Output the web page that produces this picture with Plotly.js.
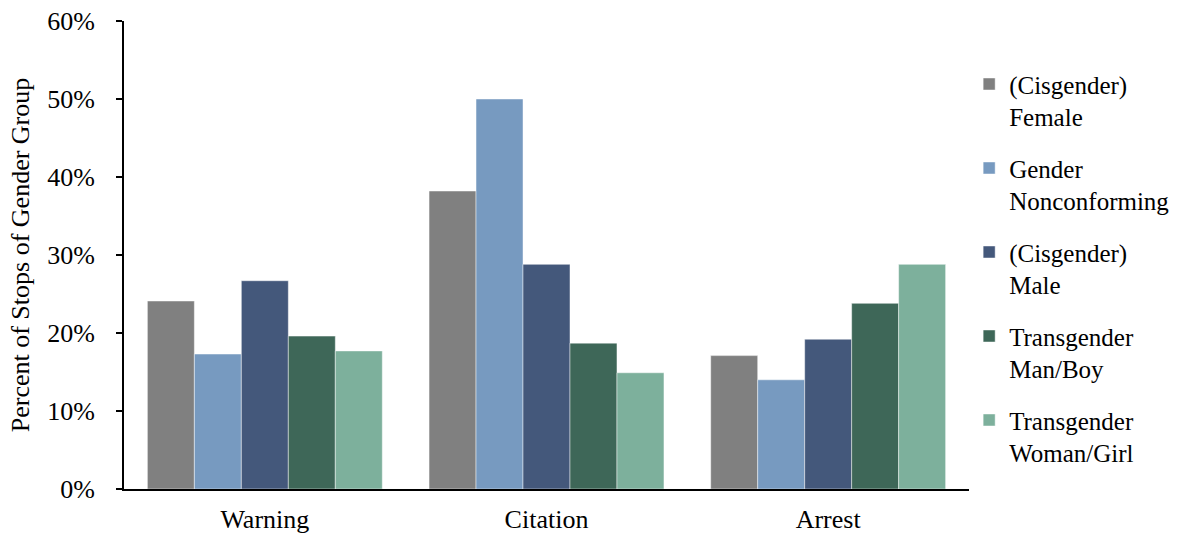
<!DOCTYPE html>
<html>
<head>
<meta charset="utf-8">
<script src="https://cdn.plot.ly/plotly-3.0.1.min.js"></script>
<style>html,body{margin:0;padding:0;background:#fff}#chart{width:1186px;height:533px}</style>
</head>
<body>
<div id="chart"></div>
<script>
const categories = ["Warning", "Citation", "Arrest"];
const seriesNames = ["(Cisgender)<br>Female", "Gender<br>Nonconforming", "(Cisgender)<br>Male", "Transgender<br>Man/Boy", "Transgender<br>Woman/Girl"];
const femaleCis = [0.241, 0.382, 0.171];
const genderNonconforming = [0.173, 0.500, 0.140];
const maleCis = [0.267, 0.288, 0.192];
const transMan = [0.196, 0.187, 0.238];
const transWoman = [0.177, 0.149, 0.288];
const yTickVals = [0, 0.1, 0.2, 0.3, 0.4, 0.5, 0.6];
const yTickText = ["0%", "10%", "20%", "30%", "40%", "50%", "60%"];

const colors = ["#808080", "#779ac0", "#44587b", "#3e6758", "#7db09c"];
const allSeries = [femaleCis, genderNonconforming, maleCis, transMan, transWoman];

const data = allSeries.map((vals, i) => ({
  type: "bar",
  name: seriesNames[i],
  x: categories,
  y: vals,
  legendgroup: "g" + i,
  marker: {color: colors[i], line: {color: "rgba(255,255,255,0.45)", width: 1}},
  hoverinfo: "none"
}));

const font = {family: "Liberation Serif", size: 26, color: "#000"};
const legendFont = {family: "Liberation Serif", size: 25, color: "#000"};

const layout = {
  width: 1186, height: 533,
  margin: {l: 124, r: 216, t: 21, b: 44},
  paper_bgcolor: "#fff", plot_bgcolor: "#fff",
  font: font,
  barmode: "group",
  bargap: 0.166, bargroupgap: 0,
  showlegend: true,
  legend: {
    x: 0.999, y: 0.914, xanchor: "left", yanchor: "top",
    font: legendFont, valign: "top", tracegroupgap: 16,
    itemwidth: 30, bgcolor: "rgba(0,0,0,0)"
  },
  xaxis: {
    showline: true, linecolor: "#000", linewidth: 2,
    ticks: "", showgrid: false, zeroline: false,
    tickfont: font, ticklabelstandoff: 6
  },
  yaxis: {
    range: [0, 0.6], tickvals: yTickVals, ticktext: yTickText,
    showline: true, linecolor: "#000", linewidth: 2,
    ticks: "outside", ticklen: 6, tickcolor: "#000", tickwidth: 1.5,
    showgrid: false, zeroline: false,
    tickfont: font, ticklabelstandoff: 16,
    title: {text: "Percent of Stops of Gender Group", font: font, standoff: 10}
  }
};

Plotly.newPlot("chart", data, layout, {staticPlot: true, displayModeBar: false});
</script>
</body>
</html>
